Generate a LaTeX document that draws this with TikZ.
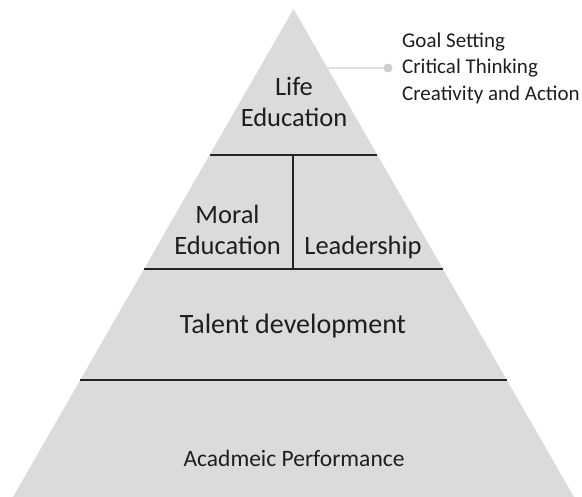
\documentclass[tikz,border=0pt]{standalone}
\usepackage{fontspec}
\setmainfont{Carlito}
\usetikzlibrary{positioning, calc}
\definecolor{pyFill}{RGB}{218, 219, 221}
\definecolor{pyLine}{RGB}{35, 35, 35}
\definecolor{pyCall}{RGB}{206, 207, 209}
\definecolor{pyText}{RGB}{30, 30, 30}
\tikzset{
    base/.style={
        font=\fontsize{26.5}{31}\selectfont,
        text=pyText,
        align=center,
        inner sep=0pt
    },
    divider/.style={
        line width=2pt,
        draw=pyLine
    },
    callout/.style={
        line width=1.3pt,
        draw=pyCall
    },
    dot/.style={
        circle,
        fill=pyCall,
        inner sep=0pt,
        minimum size=9pt
    },
    note/.style={
        font=\fontsize{21}{26.5}\selectfont,
        text=pyText,
        align=left,
        anchor=west,
        inner sep=0pt
    }
}

\begin{document}
\begin{tikzpicture}[x=1pt, y=-1pt]
  \useasboundingbox (0,0) rectangle (582,497);

  % Pyramid
  \coordinate (apex) at (293.5,9);
  \coordinate (bl) at (13,497);
  \coordinate (br) at (574,497);
  \fill[pyFill] (apex) -- (br) -- (bl) -- cycle;

  % Level dividers
  \coordinate (d1l) at ($(apex)!0.299!(bl)$);
  \coordinate (d1r) at ($(apex)!0.299!(br)$);
  \coordinate (d2l) at ($(apex)!0.533!(bl)$);
  \coordinate (d2r) at ($(apex)!0.533!(br)$);
  \coordinate (d3l) at ($(apex)!0.760!(bl)$);
  \coordinate (d3r) at ($(apex)!0.760!(br)$);
  \draw[divider] (d1l) -- (d1r);
  \draw[divider] (d2l) -- (d2r);
  \draw[divider] (d3l) -- (d3r);
  \coordinate (vtop) at (293,155);
  \coordinate (vbot) at (293,269);
  \draw[divider] (vtop) -- (vbot);

  % Labels
  \node[base] (life) at (294,102) {Life\\Education};
  \node[base] (moral) at (227.5,230) {Moral\\Education};
  \node[base] (lead) at (363,247) {Leadership};
  \node[base, font=\fontsize{28}{31}\selectfont] (talent) at (293,326) {Talent development};
  \node[base, font=\fontsize{23.5}{31}\selectfont] (acad) at (294,458) {Acadmeic Performance};

  % Callout
  \coordinate (edge) at ($(apex)!0.121!(br)$);
  \node[dot] (pin) at (388,68) {};
  \draw[callout] (edge) -- (pin);
  \node[note] (goals) at (402,68) {Goal Setting\\Critical Thinking\\Creativity and Action};
\end{tikzpicture}
\end{document}
